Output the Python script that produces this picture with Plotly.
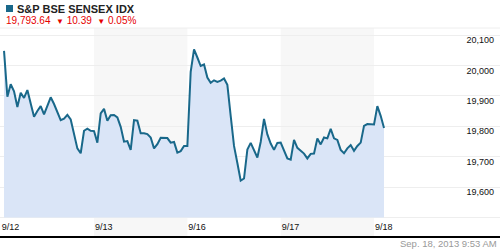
import plotly.graph_objects as go

# ---- data ----
day_labels = ["9/12", "9/13", "9/16", "9/17", "9/18"]
day1 = [20048, 19897, 19938, 19915, 19863, 19910, 19893, 19919, 19875, 19831,
        19850, 19866, 19839, 19867, 19895, 19873, 19847, 19820, 19825, 19837,
        19822, 19777, 19727, 19711, 19785, 19792, 19785, 19784]
day2 = [19746, 19842, 19857, 19818, 19836, 19837, 19829, 19798, 19749, 19751,
        19722, 19820, 19818, 19777, 19777, 19774, 19763, 19727, 19741, 19762,
        19762, 19761, 19746, 19748, 19713, 19718, 19735, 19735]
day3 = [19979, 20053, 20026, 19998, 20003, 19960, 19943, 19951, 19946, 19950,
        19957, 19936, 19834, 19735, 19679, 19621, 19628, 19723, 19745, 19718,
        19697, 19748, 19824, 19773, 19743, 19722, 19745, 19746]
day4 = [19718, 19694, 19690, 19755, 19729, 19718, 19710, 19694, 19709, 19710,
        19760, 19740, 19763, 19760, 19791, 19760, 19755, 19722, 19711, 19727,
        19738, 19719, 19735, 19746, 19801, 19807, 19807, 19806]
day5 = [19866, 19834, 19794]
days = [day1, day2, day3, day4, day5]
y_ticks = [19500, 19600, 19700, 19800, 19900, 20000, 20100]
y_ticktext = ["", "19,600", "19,700", "19,800", "19,900", "20,000", "20,100"]
baseline_value = 19500
title = "S&P BSE SENSEX IDX"
quote_text = "19,793.64"
change_text = "10.39"
pct_text = "0.05%"
stamp = "Sep. 18, 2013 9:53 AM"

STEPS = 28  # samples per session
xs, ys = [], []
for d, vals in enumerate(days):
    for i, v in enumerate(vals):
        xs.append(d + (i + 1) / STEPS)
        ys.append(v)

W, H = 500, 250
T, B = 28, 14
plot_h = H - T - B
FONT = "Liberation Sans, Arial, sans-serif"


def py(pixel_y):
    return (H - B - pixel_y) / plot_h


def px(pixel_x):
    return pixel_x / W


LINE = "#19688a"
fig = go.Figure()
fig.add_trace(go.Scatter(x=xs, y=[baseline_value] * len(xs), mode="lines",
                         line=dict(width=0), hoverinfo="skip", showlegend=False))
fig.add_trace(go.Scatter(x=xs, y=ys, mode="lines", fill="tonexty",
                         fillcolor="#dae5f7", line=dict(color=LINE, width=2),
                         showlegend=False))

shapes = []
for d0 in (1, 3):
    shapes.append(dict(type="rect", xref="x", yref="paper", x0=d0, x1=d0 + 1,
                       y0=0, y1=1, fillcolor="#f7f7f7", line=dict(width=0),
                       layer="below"))
shapes.append(dict(type="line", xref="paper", yref="paper", x0=0, x1=1, y0=1, y1=1,
                   line=dict(color="#eeeeee", width=1)))
shapes.append(dict(type="rect", xref="paper", yref="paper", x0=px(6), x1=px(13),
                   y0=py(12), y1=py(5), fillcolor=LINE, line=dict(width=0)))

red = "#e60000"
tri = '<span style="font-size:8px">▼</span>'
annotations = [
    dict(text="<b>" + title + "</b>", xref="paper", yref="paper", x=px(15), y=py(9),
         xanchor="left", yanchor="middle", showarrow=False,
         font=dict(family=FONT, size=11, color="#222222")),
    dict(text=f"{quote_text}  {tri} {change_text}  {tri} {pct_text}", xref="paper",
         yref="paper", x=px(4), y=py(20.5), xanchor="left", yanchor="middle",
         showarrow=False, font=dict(family=FONT, size=10, color=red)),
    dict(text=stamp, xref="paper", yref="paper", x=px(499), y=py(243.5),
         xanchor="right", yanchor="middle", showarrow=False,
         font=dict(family=FONT, size=9.5, color="#999999")),
]

x_left = -0.7 / 93.33
x_right = (W - 0.7) / 93.33
y_bottom = 19600 + (187 - (H - B)) / 0.304
y_top = 19600 + (187 - T) / 0.304

fig.update_layout(
    width=W, height=H, margin=dict(l=0, r=0, t=T, b=B, pad=0),
    paper_bgcolor="white", plot_bgcolor="white",
    shapes=shapes, annotations=annotations, showlegend=False,
    xaxis=dict(range=[x_left, x_right], tickvals=list(range(len(day_labels))),
               ticktext=day_labels, ticklabelposition="inside right",
               showgrid=False, zeroline=False, showline=True, linecolor="black",
               linewidth=2, ticks="", tickfont=dict(family=FONT, size=9, color="#111111")),
    yaxis=dict(range=[y_bottom, y_top], side="right", tickvals=y_ticks,
               ticktext=y_ticktext, ticklabelposition="inside", ticks="",
               gridcolor="#eeeeee", gridwidth=1, zeroline=False, showline=False,
               ticklabelshift=5, ticklabelstandoff=3,
               tickfont=dict(family=FONT, size=9, color="#111111")),
)
fig.write_html("out.html")
